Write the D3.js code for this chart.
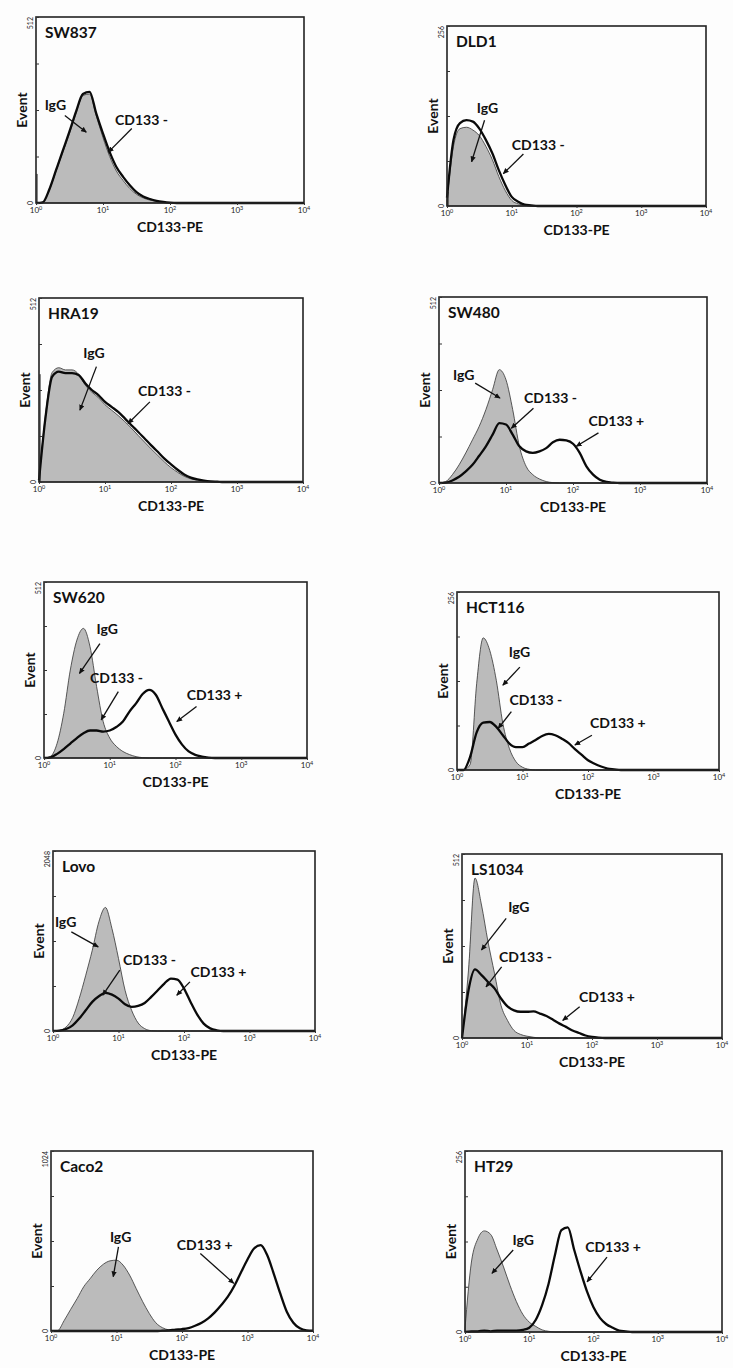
<!DOCTYPE html>
<html><head><meta charset="utf-8">
<script src="https://cdn.jsdelivr.net/npm/d3@7"></script>
<style>
html,body{margin:0;padding:0;background:#fdfdfd;}
svg{display:block;font-family:Lato,"Open Sans",sans-serif;}
</style></head><body>
<svg id="fig" width="733" height="1368"></svg>
<script>
// Histogram channels, in decades of CD133-PE intensity (10^0 … 10^4)
const channelDecades = [0,0.1,0.2,0.3,0.4,0.5,0.6,0.7,0.8,0.9,1.0,1.1,1.2,1.3,1.4,1.5,1.6,1.7,1.8,1.9,2.0,
  2.1,2.2,2.3,2.4,2.5,2.6,2.7,2.8,2.9,3.0,3.1,3.2,3.3,3.4,3.5,3.6,3.7,3.8,3.9,4.0];

const cellLines = ["SW837","DLD1","HRA19","SW480","SW620","HCT116","Lovo","LS1034","Caco2","HT29"];
const eventMax  = [512,256,512,512,512,256,2048,512,1024,256];
const decadeTicks = [1,10,100,1000,10000];
const decadeExponents = ["0","1","2","3","4"];

// Isotype control (IgG) histograms, events per channel
const iggSW837  = [0,2,36,88,140,192,248,296,300,240,180,128,88,62,40,24,14,8,4,2,0,0,0,0,0,0,0,0,0,0,0,0,0,0,0,0,0,0,0,0,0];
const iggDLD1   = [8,85,110,112,108,100,85,66,42,22,8,3,1,0,0,0,0,0,0,0,0,0,0,0,0,0,0,0,0,0,0,0,0,0,0,0,0,0,0,0,0];
const iggHRA19  = [5,190,305,318,312,312,300,270,250,235,215,200,185,168,150,130,111,92,74,56,40,27,16,9,5,2,1,0,0,0,0,0,0,0,0,0,0,0,0,0,0];
const iggSW480  = [0,4,23,50,83,119,156,202,257,312,284,202,101,46,23,11,4,1,0,0,0,0,0,0,0,0,0,0,0,0,0,0,0,0,0,0,0,0,0,0,0];
const iggSW620  = [0,5,43,130,256,343,377,324,208,106,58,34,19,10,4,1,0,0,0,0,0,0,0,0,0,0,0,0,0,0,0,0,0,0,0,0,0,0,0,0,0];
const iggHCT116 = [0,0,8,124,190,172,129,67,31,12,4,1,0,0,0,0,0,0,0,0,0,0,0,0,0,0,0,0,0,0,0,0,0,0,0,0,0,0,0,0,0];
const iggLovo   = [0,8,46,152,369,635,920,1242,1406,1166,825,464,236,91,27,4,0,0,0,0,0,0,0,0,0,0,0,0,0,0,0,0,0,0,0,0,0,0,0,0,0];
const iggLS1034 = [0,189,445,370,268,180,91,49,21,10,5,2,0,0,0,0,0,0,0,0,0,0,0,0,0,0,0,0,0,0,0,0,0,0,0,0,0,0,0,0,0];
const iggCaco2  = [0,2,59,123,185,252,299,346,380,399,403,375,318,242,167,100,47,19,6,2,0,0,0,0,0,0,0,0,0,0,0,0,0,0,0,0,0,0,0,0,0];
const iggHT29   = [5,99,132,143,138,116,92,66,43,25,14,8,3,1,0,0,0,0,0,0,0,0,0,0,0,0,0,0,0,0,0,0,0,0,0,0,0,0,0,0,0];

// Anti-CD133-PE stained histograms, events per channel
const cd133SW837  = [0,2,38,91,144,197,253,300,306,246,191,140,99,72,49,30,18,11,6,3,1,0,0,0,0,0,0,0,0,0,0,0,0,0,0,0,0,0,0,0,0];
const cd133DLD1   = [12,94,118,122,120,110,94,75,51,30,13,6,2,1,0,0,0,0,0,0,0,0,0,0,0,0,0,0,0,0,0,0,0,0,0,0,0,0,0,0,0];
const cd133HRA19  = [5,182,293,307,303,303,298,275,256,242,223,209,195,177,158,140,121,102,84,65,49,34,21,12,7,4,2,1,0,0,0,0,0,0,0,0,0,0,0,0,0];
const cd133SW480  = [0,1,7,17,32,50,75,101,133,165,161,133,101,87,83,87,96,112,119,117,108,83,46,23,9,3,1,0,0,0,0,0,0,0,0,0,0,0,0,0,0];
const cd133SW620  = [0,2,12,26,42,58,72,80,80,77,80,90,106,135,159,186,198,184,145,106,68,39,19,9,4,1,0,0,0,0,0,0,0,0,0,0,0,0,0,0,0];
const cd133HCT116 = [0,0,19,54,68,69,62,50,38,33,33,38,43,49,52,50,45,39,30,22,14,9,5,2,1,0,0,0,0,0,0,0,0,0,0,0,0,0,0,0,0];
const cd133Lovo   = [0,4,23,65,141,236,331,395,433,414,369,304,274,285,319,388,464,540,597,585,483,331,190,84,30,8,0,0,0,0,0,0,0,0,0,0,0,0,0,0,0];
const cd133LS1034 = [0,133,191,175,156,138,110,88,77,73,73,74,68,61,51,40,31,21,14,7,3,1,0,0,0,0,0,0,0,0,0,0,0,0,0,0,0,0,0,0,0];
const cd133Caco2  = [0,0,0,0,0,0,0,0,0,0,0,0,0,0,0,0,0,2,4,8,11,17,30,47,72,106,148,195,257,333,407,469,488,432,327,214,110,47,15,4,2];
const cd133HT29   = [0,1,1,2,1,2,2,2,2,3,6,17,38,68,109,144,148,116,85,57,35,20,11,6,2,1,0,0,0,0,0,0,0,0,0,0,0,0,0,0,0];

// Events piled in the lowest channel (10^0) of the stained sample
const lowestChannel = [80,20,300,0,0,0,0,0,0,0];

// Callouts: [label, label decade, label events, arrow tail decade, tail events, arrow head decade, head events]
const calloutsSW837  = [["IgG",0.13,255,0.43,241,0.75,195],["CD133 -",1.18,214,1.43,205,1.08,140]];
const calloutsDLD1   = [["IgG",0.46,132,0.58,122,0.38,63],["CD133 -",1.0,80,1.18,74,0.87,46]];
const calloutsHRA19  = [["IgG",0.67,344,0.87,321,0.62,200],["CD133 -",1.5,239,1.68,223,1.35,163]];
const calloutsSW480  = [["IgG",0.21,284,0.54,275,0.91,234],["CD133 -",1.27,220,1.41,206,1.08,151],["CD133 +",2.23,156,2.38,138,2.05,101]];
const calloutsSW620  = [["IgG",0.80,362,0.85,333,0.54,246],["CD133 -",0.70,217,1.13,193,0.87,111],["CD133 +",2.17,169,2.32,150,2.02,106]];
const calloutsHCT116 = [["IgG",0.79,163,0.96,148,0.70,122],["CD133 -",0.80,93,0.83,84,0.63,60],["CD133 +",2.03,60,2.06,50,1.80,36]];
const calloutsLovo   = [["IgG",0.03,1185,0.28,1128,0.69,957],["CD133 -",1.07,749,1.02,692,0.76,407],["CD133 +",2.10,616,2.09,559,1.89,407]];
const calloutsLS1034 = [["IgG",0.71,352,0.68,333,0.30,245],["CD133 -",0.57,212,0.61,198,0.37,142],["CD133 +",1.80,101,1.81,87,1.55,49]];
const calloutsCaco2  = [["IgG",0.90,507,1.03,479,0.95,309],["CD133 +",1.92,460,2.28,441,2.79,271]];
const calloutsHT29   = [["IgG",0.74,123,0.75,116,0.42,83],["CD133 +",1.87,113,2.21,106,1.90,71]];

const iggSeries   = [iggSW837,iggDLD1,iggHRA19,iggSW480,iggSW620,iggHCT116,iggLovo,iggLS1034,iggCaco2,iggHT29];
const cd133Series = [cd133SW837,cd133DLD1,cd133HRA19,cd133SW480,cd133SW620,cd133HCT116,cd133Lovo,cd133LS1034,cd133Caco2,cd133HT29];
const callouts    = [calloutsSW837,calloutsDLD1,calloutsHRA19,calloutsSW480,calloutsSW620,calloutsHCT116,calloutsLovo,calloutsLS1034,calloutsCaco2,calloutsHT29];

// Plot frames: [left, top, width, height]
const frames = [
  [36,17,268,186],[447,26,259,180],
  [39,298,264,184],[439,297,268,186],
  [44,582,263,176],[457,592,262,178],
  [53,851,262,180],[462,854,260,184],
  [51,1151,262,180],[465,1151,257,181]
];

const svg = d3.select("#fig");
svg.append("defs").append("marker")
  .attr("id","arrowhead").attr("viewBox","0 0 8 8").attr("refX",7).attr("refY",4)
  .attr("markerWidth",6).attr("markerHeight",6).attr("markerUnits","userSpaceOnUse")
  .attr("orient","auto")
  .append("path").attr("d","M0,0.5 L8,4 L0,7.5 Z").attr("fill","#111");

const toPoints = arr => arr.map((v,k) => [Math.pow(10, channelDecades[k]), v]);

cellLines.forEach((name, i) => {
  const [fx, fy, fw, fh] = frames[i];
  const x = d3.scaleLog().domain([1, 1e4]).range([fx, fx + fw]);
  const y = d3.scaleLinear().domain([0, eventMax[i]]).range([fy + fh, fy]);
  const g = svg.append("g");

  const area = d3.area().x(d => x(d[0])).y0(y(0)).y1(d => y(d[1])).curve(d3.curveMonotoneX);
  const line = d3.line().x(d => x(d[0])).y(d => y(d[1])).curve(d3.curveMonotoneX);

  // isotype control: filled grey histogram
  g.append("path").datum(toPoints(iggSeries[i])).attr("d", area)
    .attr("fill","#bbbbbb").attr("stroke","#333").attr("stroke-width",0.8);

  // CD133 stained sample: bold outline
  g.append("path").datum(toPoints(cd133Series[i])).attr("d", line)
    .attr("fill","none").attr("stroke","#0a0a0a").attr("stroke-width",2.3).attr("stroke-linejoin","round");

  if (lowestChannel[i] > 0) {
    g.append("line").attr("x1", x(1) + 1).attr("x2", x(1) + 1)
      .attr("y1", y(0)).attr("y2", y(lowestChannel[i]))
      .attr("stroke","#111").attr("stroke-width",1);
  }

  // frame
  g.append("rect").attr("x",fx).attr("y",fy).attr("width",fw).attr("height",fh)
    .attr("fill","none").attr("stroke","#222").attr("stroke-width",1.6);

  // axes
  const yTicks = d3.range(0,5).map(k => eventMax[i] * k / 4);
  g.append("g").attr("transform",`translate(${fx},0)`)
    .call(d3.axisLeft(y).tickValues(yTicks).tickSize(-3).tickFormat(""))
    .call(s => s.select(".domain").remove())
    .call(s => s.selectAll("line").attr("stroke","#333"));
  g.append("g").attr("transform",`translate(0,${fy + fh})`)
    .call(d3.axisBottom(x).tickValues(decadeTicks).tickSize(2).tickFormat(""))
    .call(s => s.select(".domain").remove())
    .call(s => s.selectAll("line").attr("stroke","#333"));

  decadeTicks.forEach((t, k) => {
    const tx = g.append("text").attr("x", x(t)).attr("y", fy + fh + 10)
      .attr("text-anchor","middle").attr("font-size",8).attr("fill","#222");
    tx.append("tspan").text("10");
    tx.append("tspan").attr("dy",-3).attr("font-size",5.5).text(decadeExponents[k]);
  });

  g.append("text").attr("transform",`translate(${fx - 3},${fy}) rotate(-90)`)
    .attr("text-anchor","end").attr("font-size",7).attr("fill","#222").text(eventMax[i]);
  g.append("text").attr("transform",`translate(${fx - 3},${fy + fh}) rotate(-90)`)
    .attr("text-anchor","middle").attr("font-size",7).attr("fill","#222").text("0");

  g.append("text").attr("transform",`translate(${fx - 9},${fy + fh / 2}) rotate(-90)`)
    .attr("text-anchor","middle").attr("font-size",14).attr("font-weight",700).attr("fill","#111").text("Event");
  g.append("text").attr("x", fx + fw / 2).attr("y", fy + fh + 29)
    .attr("text-anchor","middle").attr("font-size",14).attr("font-weight",700).attr("fill","#111").text("CD133-PE");

  g.append("text").attr("x", fx + 9).attr("y", fy + 21)
    .attr("font-size",15.5).attr("font-weight",700).attr("fill","#111").text(name);

  callouts[i].forEach(([label, lx, ly, ax1, ay1, ax2, ay2]) => {
    g.append("text").attr("x", x(Math.pow(10,lx))).attr("y", y(ly))
      .attr("font-size",14).attr("font-weight",700).attr("fill","#111").text(label);
    g.append("line")
      .attr("x1", x(Math.pow(10,ax1))).attr("y1", y(ay1))
      .attr("x2", x(Math.pow(10,ax2))).attr("y2", y(ay2))
      .attr("stroke","#111").attr("stroke-width",1.3).attr("marker-end","url(#arrowhead)");
  });
});
</script>
</body></html>
